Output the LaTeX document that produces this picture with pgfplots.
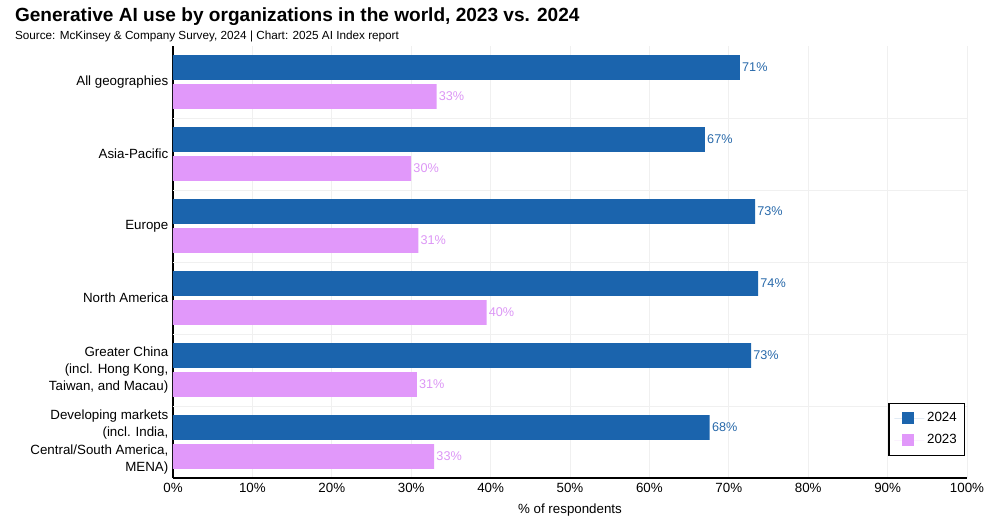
\documentclass[border=0pt]{standalone}
\usepackage{pgfplots}
\pgfplotsset{compat=1.18}
\usepackage{fontspec}
\setmainfont{Liberation Sans}

\definecolor{bar24}{RGB}{27,100,173}
\definecolor{bar23}{RGB}{225,152,250}
\definecolor{lab24}{RGB}{40,105,170}
\definecolor{lab23}{RGB}{220,150,245}

\begin{document}
\begin{tikzpicture}
\begin{axis}[
    xbar,
    scale only axis,
    width=595.5pt, height=324pt,
    xmin=0, xmax=100,
    ymin=-0.5, ymax=5.5,
    bar width=18.5pt,
    axis x line=bottom, axis y line=left,
    axis line style={-, line width=1.4pt, black},
    xtick={0,10,...,100},
    xticklabel={\pgfmathprintnumber{\tick}\%},
    /pgf/number format/assume math mode=true,
    ytick={0,1,2,3,4,5},
    yticklabels={{Developing markets\\(incl. India,\\Central/South America,\\MENA)},
                 {Greater China\\(incl. Hong Kong,\\Taiwan, and Macau)},
                 {North America},{Europe},{Asia-Pacific},{All geographies}},
    yticklabel style={align=right, font=\fontsize{10}{13}\selectfont},
    xticklabel style={font=\fontsize{10}{12}\selectfont},
    major tick length=0pt,
    xmajorgrids,
    grid style={gray!12, line width=0.6pt},
    extra y ticks={0.5,1.5,2.5,3.5,4.5},
    extra y tick labels={},
    extra y tick style={ymajorgrids, major tick length=0pt},
    xlabel={\% of respondents},
    xlabel style={font=\fontsize{10}{12}\selectfont, at={(axis description cs:0.5,0)}, anchor=north, yshift=-16pt},
    nodes near coords,
    nodes near coords align={horizontal},
    point meta=explicit symbolic,
    every node near coord/.append style={font=\fontsize{9.5}{11}\selectfont, anchor=west, inner xsep=1.5pt},
    legend style={at={(0.998,0.051)}, anchor=south east, draw=black, line width=1pt,
        font=\fontsize{10}{12}\selectfont, inner xsep=4pt, inner ysep=5pt, row sep=4pt},
    legend cell align=left,
    legend image code/.code={\path (-6pt,0pt) -- (16.5pt,0pt);
        \fill[#1] (0pt,-4.5pt) rectangle (9pt,4.5pt);},
]
\addplot[fill=bar24, draw=none, bar shift=10.9pt, every node near coord/.append style={text=lab24}]
coordinates {(67.6,0) [68\%] (72.8,1) [73\%] (73.7,2) [74\%] (73.3,3) [73\%] (67.0,4) [67\%] (71.4,5) [71\%]};
\addplot[fill=bar23, draw=none, bar shift=-10.9pt, every node near coord/.append style={text=lab23}]
coordinates {(32.9,0) [33\%] (30.7,1) [31\%] (39.5,2) [40\%] (30.9,3) [31\%] (30.0,4) [30\%] (33.2,5) [33\%]};
\legend{2024,2023}
\end{axis}
\node[anchor=base west, font=\bfseries\fontsize{14.3}{17}\selectfont] at (-122pt,342pt) {Generative AI use by organizations in the world, 2023 vs. 2024};
\node[anchor=base west, font=\fontsize{8.8}{10}\selectfont] at (-122pt,329pt) {Source: McKinsey \& Company Survey, 2024 | Chart: 2025 AI Index report};
\useasboundingbox (-129.75pt,-27pt) rectangle (620.25pt,358.5pt);
\end{tikzpicture}
\end{document}
